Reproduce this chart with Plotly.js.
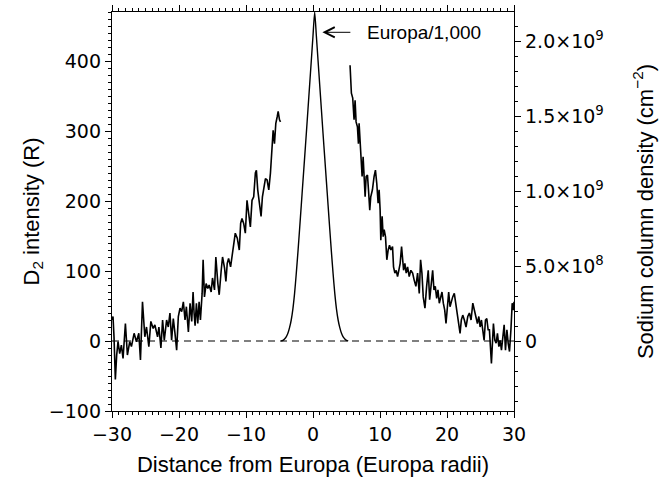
<!DOCTYPE html>
<html>
<head>
<meta charset="utf-8">
<script src="https://cdn.plot.ly/plotly-3.0.1.min.js"></script>
<style>html,body{margin:0;padding:0;background:#fff;}#chart{width:664px;height:483px;}</style>
</head>
<body>
<div id="chart"></div>
<script>
// Left side D2 emission profile, Rayleighs
const leftX = [-30.0, -29.85, -29.7, -29.5, -29.3, -29.1, -28.85, -28.6, -28.35, -28.0, -27.7, -27.35, -27.1, -26.7, -26.35, -26.0, -25.75, -25.45, -25.1, -24.85, -24.5, -24.2, -23.85, -23.6, -23.2, -23.0, -22.7, -22.45, -22.2, -21.85, -21.6, -21.35, -21.1, -20.85, -20.6, -20.35, -20.1, -19.85, -19.6, -19.35, -19.1, -18.9, -18.6, -18.35, -18.1, -17.9, -17.75, -17.6, -17.4, -17.2, -17.0, -16.8, -16.55, -16.4, -16.2, -15.95, -15.7, -15.5, -15.2, -15.0, -14.7, -14.5, -14.2, -14.0, -13.7, -13.5, -13.2, -13.0, -12.8, -12.6, -12.3, -12.1, -11.8, -11.6, -11.3, -11.0, -10.8, -10.6, -10.35, -10.1, -9.85, -9.6, -9.35, -9.1, -8.85, -8.6, -8.45, -8.25, -8.0, -7.75, -7.55, -7.35, -7.1, -6.85, -6.6, -6.35, -6.1, -5.95, -5.75, -5.55, -5.35, -5.2, -5.0, -4.85];
const leftY = [30, 35, 6, -55, -20, -1, -18, -6, -25, 25, -20, -1, -8, 11, -1, 11, -27, 56, 6, 20, -8, 28, 18, 23, 6, 20, -10, 30, 1, 30, 20, 40, 1, 32, 11, -13, 35, 47, 42, 56, 30, 49, 13, 54, 28, 70, 40, 22, 54, 25, 56, 30, 68, 116, 63, 82, 75, 80, 70, 90, 73, 120, 82, 66, 101, 120, 104, 85, 111, 118, 106, 120, 147, 154, 147, 130, 168, 175, 168, 154, 201, 180, 163, 201, 206, 240, 244, 216, 197, 178, 206, 220, 232, 230, 216, 240, 273, 301, 282, 311, 320, 328, 316, 313];

// Right side D2 emission profile, Rayleighs
const rightX = [5.53, 5.73, 5.93, 6.13, 6.28, 6.43, 6.63, 6.78, 6.88, 7.03, 7.23, 7.33, 7.48, 7.63, 7.78, 7.93, 8.13, 8.28, 8.47, 8.62, 8.87, 9.12, 9.32, 9.52, 9.72, 9.87, 10.02, 10.12, 10.32, 10.47, 10.62, 10.82, 11.02, 11.22, 11.42, 11.62, 11.87, 12.02, 12.22, 12.42, 12.62, 12.81, 13.01, 13.22, 13.37, 13.52, 13.71, 13.91, 14.12, 14.36, 14.61, 14.87, 15.1, 15.36, 15.61, 15.86, 16.06, 16.26, 16.45, 16.71, 16.96, 17.2, 17.41, 17.65, 17.86, 18.05, 18.25, 18.46, 18.65, 18.85, 19.06, 19.25, 19.45, 19.66, 19.85, 20.05, 20.25, 20.45, 20.64, 20.85, 21.09, 21.35, 21.54, 21.75, 21.95, 22.14, 22.35, 22.59, 22.84, 23.1, 23.34, 23.59, 23.85, 24.09, 24.34, 24.54, 24.75, 24.94, 25.14, 25.35, 25.54, 25.74, 25.94, 26.14, 26.33, 26.48, 26.63, 26.78, 26.93, 27.14, 27.33, 27.53, 27.74, 27.93, 28.13, 28.34, 28.53, 28.73, 28.94, 29.13, 29.33, 29.54, 29.73, 29.93, 30.0];
const rightY = [394, 354, 347, 316, 344, 313, 306, 282, 311, 280, 259, 235, 263, 232, 206, 235, 237, 216, 187, 206, 216, 235, 244, 225, 197, 216, 187, 144, 178, 149, 159, 149, 116, 130, 137, 130, 135, 106, 97, 101, 92, 101, 111, 135, 111, 101, 111, 97, 106, 92, 101, 97, 87, 78, 97, 68, 116, 97, 63, 47, 78, 101, 59, 82, 101, 73, 78, 61, 73, 54, 61, 70, 54, 44, 25, 54, 70, 49, 56, 63, 68, 51, 40, 30, 11, 30, 37, 30, 20, 35, 40, 30, 54, 44, 30, 25, 35, 20, 30, 11, 1, 30, 32, 16, 16, -8, -32, -3, 25, 1, -3, 11, -8, 1, -13, 6, 23, -13, 16, -3, -15, 16, 54, 44, 56];

// Europa disk brightness divided by 1,000
const peakX = [-4.75, -4.5, -4.25, -4.0, -3.75, -3.5, -3.25, -3.0, -2.75, -2.5, -2.25, -2.0, -1.75, -1.5, -1.25, -1.0, -0.75, -0.5, -0.25, 0.0, 0.25, 0.5, 0.75, 1.0, 1.25, 1.5, 1.75, 2.0, 2.25, 2.5, 2.75, 3.0, 3.25, 3.5, 3.75, 4.0, 4.25, 4.5, 4.75, 5.0, 5.25];
const peakY = [0, 1, 3, 6, 11, 19, 30, 46, 68, 96, 127, 160, 194, 228, 262, 296, 331, 366, 401, 436, 470, 436, 401, 366, 331, 296, 262, 228, 194, 160, 127, 96, 68, 46, 30, 19, 11, 6, 3, 1, 0];

// zero level (column density axis)
const zeroX = [-30, 30];
const zeroY = [0, 0];

// right axis ticks
const densTickVals = [0, 5e8, 1e9, 1.5e9, 2e9];
const densTickText = ['0', '5.0×10<sup>8</sup>', '1.0×10<sup>9</sup>', '1.5×10<sup>9</sup>', '2.0×10<sup>9</sup>'];

const xRange = [-30, 30];
const yRange = [-100, 470];
const y2Range = [-4.6667e8, 2.1933e9];

const tickFont = {family: 'DejaVu Sans', size: 19, color: '#000'};
const titleFont = {family: 'Liberation Sans, Arial, sans-serif', size: 22, color: '#000'};

const traces = [
  {x: zeroX, y: zeroY, xaxis: 'x', yaxis: 'y2', mode: 'lines', line: {color: '#000', width: 1.2, dash: '7px,5px'}, hoverinfo: 'skip', showlegend: false},
  {x: leftX, y: leftY, mode: 'lines', line: {color: '#000', width: 1.6}, showlegend: false},
  {x: rightX, y: rightY, mode: 'lines', line: {color: '#000', width: 1.6}, showlegend: false},
  {x: peakX, y: peakY, mode: 'lines', line: {color: '#000', width: 1.4, shape: 'spline', smoothing: 0.6}, showlegend: false}
];

const layout = {
  width: 664, height: 483,
  margin: {l: 112, r: 150, t: 12, b: 72},
  paper_bgcolor: '#fff', plot_bgcolor: '#fff',
  showlegend: false,
  xaxis: {
    range: xRange, tick0: -30, dtick: 10,
    ticks: 'outside', ticklen: 6, tickwidth: 1, tickcolor: '#000',
    minor: {tick0: -30, dtick: 1, ticks: 'outside', ticklen: 3, tickwidth: 1, tickcolor: '#000'},
    showline: true, linecolor: '#000', linewidth: 1.2, mirror: 'ticks',
    showgrid: false, zeroline: false,
    tickfont: tickFont, ticklabelstandoff: 0,
    title: {text: 'Distance from Europa (Europa radii)', font: titleFont, standoff: 12}
  },
  yaxis: {
    range: yRange, tick0: 0, dtick: 100,
    ticks: 'outside', ticklen: 6, tickwidth: 1, tickcolor: '#000',
    minor: {tick0: 0, dtick: 10, ticks: 'outside', ticklen: 3, tickwidth: 1, tickcolor: '#000'},
    showline: true, linecolor: '#000', linewidth: 1.2,
    showgrid: false, zeroline: false,
    tickfont: tickFont,
    title: {text: 'D<sub>2</sub> intensity (R)', font: titleFont, standoff: 3}
  },
  yaxis2: {
    overlaying: 'y', side: 'right', anchor: 'x',
    range: y2Range, tickvals: densTickVals, ticktext: densTickText,
    ticks: 'outside', ticklen: 6, tickwidth: 1, tickcolor: '#000',
    minor: {tick0: 0, dtick: 1e8, ticks: 'outside', ticklen: 3, tickwidth: 1, tickcolor: '#000'},
    showline: true, linecolor: '#000', linewidth: 1.2,
    showgrid: false, zeroline: false,
    tickfont: tickFont,
    title: {text: 'Sodium column density (cm<sup>−2</sup>)', font: titleFont, standoff: 34}
  },
  annotations: [
    {x: 1.4, y: 441, ax: 5.8, ay: 441, xref: 'x', yref: 'y', axref: 'x', ayref: 'y',
     text: '', showarrow: true, arrowhead: 5, arrowsize: 2, arrowwidth: 1, arrowcolor: '#000'},
    {x: 16.5, y: 441, xref: 'x', yref: 'y', text: 'Europa/1,000', showarrow: false,
     font: {family: 'Liberation Sans, Arial, sans-serif', size: 19, color: '#000'}}
  ]
};

Plotly.newPlot('chart', traces, layout, {displayModeBar: false, staticPlot: true});
</script>
</body>
</html>
